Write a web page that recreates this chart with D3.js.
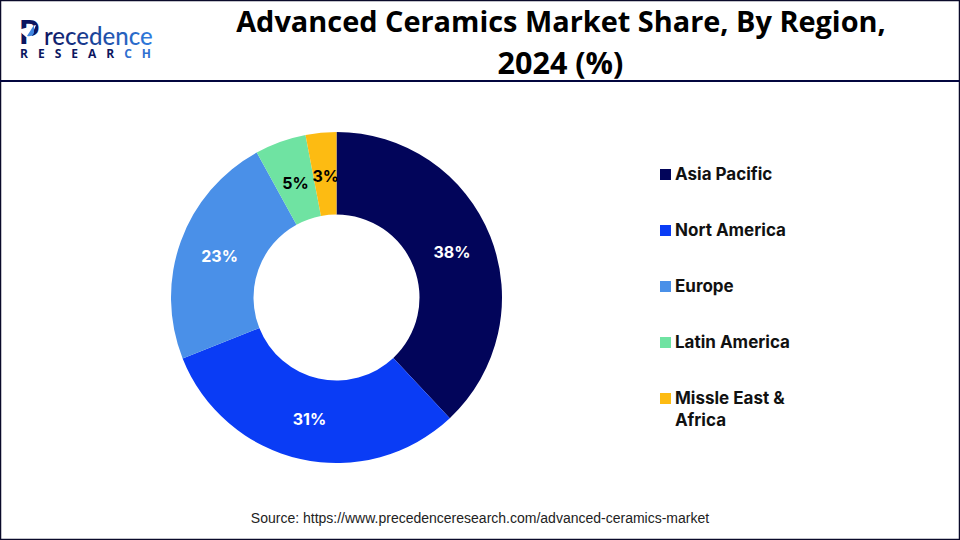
<!DOCTYPE html>
<html><head><meta charset="utf-8">
<script src="https://cdn.jsdelivr.net/npm/d3@7"></script>
<style>html,body{margin:0;padding:0;background:#fff}svg{display:block}</style>
</head><body><svg id="c" width="960" height="540"></svg>
<script>
const regions = ["Asia Pacific","Nort America","Europe","Latin America","Missle East & Africa"];
const shares = [38,31,23,5,3];
const colors = ["#02055a","#0a3cf5","#4a90e8","#6fe3a2","#fdbb12"];
const legendLines = [["Asia Pacific"],["Nort America"],["Europe"],["Latin America"],["Missle East &","Africa"]];
const titleLines = ["Advanced Ceramics Market Share, By Region,","2024 (%)"];
const sourceText = "Source: https://www.precedenceresearch.com/advanced-ceramics-market";

const svg = d3.select("#c");
const font = "Inter, Roboto, sans-serif";
svg.append("rect").attr("x",0.5).attr("y",0.5).attr("width",959).attr("height",539).attr("fill","#fff").attr("stroke","#0a0a2a").attr("stroke-width",1.5);
svg.append("line").attr("x1",0).attr("x2",960).attr("y1",81).attr("y2",81).attr("stroke","#03063f").attr("stroke-width",2);
// logo
const defs = svg.append("defs");
const lg = defs.append("linearGradient").attr("id","lg");
lg.append("stop").attr("offset","0%").attr("stop-color","#0c1660");
lg.append("stop").attr("offset","100%").attr("stop-color","#2f7de0");
const logo = svg.append("g");
logo.append("text").attr("x",19).attr("y",44).attr("font-family","Lato, sans-serif").attr("font-size",32).attr("font-weight",900).attr("fill","#0c1660").text("P");
logo.append("path").attr("d","M18 30 L36 25 L31 37 L26 37 Z").attr("fill","#fff");
logo.append("path").attr("d","M27 36 L34 25 L34 33 Q32 37 27 36Z").attr("fill","#3f86e0");
logo.append("text").attr("x",44).attr("y",45).attr("font-family","Lato, sans-serif").attr("font-size",24).attr("font-weight",500).attr("fill","url(#lg)").text("recedence");
const rs = logo.append("text").attr("x",20).attr("y",58).attr("font-family","'Open Sans', sans-serif").attr("font-size",12).attr("font-weight",700).attr("letter-spacing",10);
rs.append("tspan").attr("fill","#0c1660").text("RESEAR");
rs.append("tspan").attr("fill","#2f6fd0").text("CH");
// title
const titleSizes = [28.9,30.5];
svg.append("g").selectAll("text").data(titleLines).join("text")
  .attr("x",(d,i)=>i?560.5:561).attr("y",(d,i)=>32+i*42).attr("text-anchor","middle")
  .attr("font-family","'Open Sans', Lato, sans-serif").attr("font-size",(d,i)=>titleSizes[i]).attr("font-weight",700).attr("fill","#000").text(d=>d);
// donut
const pie = d3.pie().sort(null).value(d=>d);
const arc = d3.arc().innerRadius(83).outerRadius(165.5);
const g = svg.append("g").attr("transform","translate(336.5,297.5)");
const arcs = pie(shares);
g.selectAll("path").data(arcs).join("path").attr("d",arc).attr("fill",(d,i)=>colors[i]);
const labelColors = ["#fff","#fff","#fff","#000","#000"];
g.selectAll("text").data(arcs).join("text")
  .attr("transform",(d,i)=>{const c=arc.centroid(d);return `translate(${c[0]+(i>2?1:0)},${c[1]+(i>2?2.5:0.5)})`;}).attr("text-anchor","middle").attr("dy","0.36em")
  .attr("font-family",font).attr("font-size",16).attr("font-weight",700)
  .attr("fill",(d,i)=>labelColors[i]).text(d=>d.data+"%");
// legend
const ly = d3.scalePoint().domain(regions).range([174,398]);
const leg = svg.append("g").selectAll("g").data(regions).join("g").attr("transform",d=>`translate(660,${ly(d)})`);
leg.append("rect").attr("x",0).attr("y",-5).attr("width",11).attr("height",11).attr("fill",(d,i)=>colors[i]);
leg.each(function(d,i){
  d3.select(this).selectAll("text").data(legendLines[i]).join("text")
   .attr("x",15).attr("y",(t,j)=>6+j*22).attr("font-family",font).attr("font-size",17).attr("font-weight",700).attr("fill","#111").text(t=>t);
});
// source
svg.append("text").attr("x",480).attr("y",523).attr("text-anchor","middle").attr("font-family","'Liberation Sans', Arial, sans-serif").attr("font-size",14).attr("fill","#222").text(sourceText);
</script></body></html>
